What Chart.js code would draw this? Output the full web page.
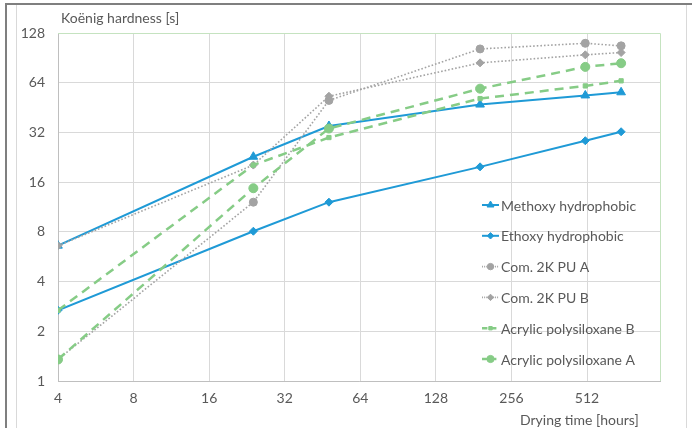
<!DOCTYPE html>
<html>
<head>
<meta charset="utf-8">
<script src="https://cdn.jsdelivr.net/npm/chart.js@4.4.1/dist/chart.umd.min.js"></script>
<style>
  html, body { margin: 0; padding: 0; background: #fff; }
  #wrap { position: relative; width: 700px; height: 428px; }
</style>
</head>
<body>
<div id="wrap"><canvas id="chart" width="700" height="428"></canvas></div>
<script>
const hours = [4, 24, 48, 192, 504, 700];
const methoxy = [6.6, 22.8, 35, 47.2, 53.6, 56];
const ethoxy = [2.68, 8.07, 12.1, 19.8, 28.5, 32.3];
const puA = [1.35, 12.1, 50, 102.5, 110.9, 107];
const puB = [6.6, 20.3, 53, 84.4, 94.4, 97.5];
const acrylB = [2.68, 20.3, 29.8, 51.3, 61.2, 65.7];
const acrylA = [1.35, 14.7, 33.8, 58.9, 79.8, 84];

const xTicks = [4, 8, 16, 32, 64, 128, 256, 512];
const yTicks = [1, 2, 4, 8, 16, 32, 64, 128];

const blue = "#1f9ad6";
const gray = "#a3a3a3";
const green = "#86cc86";
const textColor = "#595959";
const font = "Lato";

const toPoints = vals => vals.map((v, i) => ({x: hours[i], y: v}));

const series = [
  {label: "Methoxy hydrophobic", data: methoxy, color: blue, style: "triangle", r: 5, width: 2, dash: []},
  {label: "Ethoxy hydrophobic", data: ethoxy, color: blue, style: "rectRot", r: 4, width: 2, dash: []},
  {label: "Com. 2K PU A", data: puA, color: gray, style: "circle", r: 4, width: 1.6, dash: [1.6, 2]},
  {label: "Com. 2K PU B", data: puB, color: gray, style: "rectRot", r: 4, width: 1.6, dash: [1.6, 2]},
  {label: "Acrylic polysiloxane B", data: acrylB, color: green, style: "rect", r: 3, width: 2.5, dash: [9, 6]},
  {label: "Acrylic polysiloxane A", data: acrylA, color: green, style: "circle", r: 4.5, width: 2.5, dash: [9, 6]}
];

const datasets = series.map((s, i) => ({
  label: s.label,
  data: toPoints(s.data),
  borderColor: s.color,
  backgroundColor: s.color,
  borderWidth: s.width,
  borderDash: s.dash,
  pointStyle: s.style,
  pointRadius: s.r,
  pointBorderWidth: 1,
  pointBackgroundColor: s.color,
  pointBorderColor: s.color,
  tension: 0,
  order: series.length - i
}));

// frame, plot border, titles, legend
const decor = {
  id: "decor",
  beforeDraw(chart) {
    const c = chart.ctx;
    c.save();
    c.fillStyle = "#fff";
    c.fillRect(0, 0, chart.width, chart.height);
    c.strokeStyle = "#d9d9d9";
    c.lineWidth = 1;
    c.beginPath();
    c.moveTo(16.5, 5); c.lineTo(16.5, 428);
    c.moveTo(686.5, 5); c.lineTo(686.5, 428);
    c.stroke();
    c.strokeStyle = "#7f7f7f";
    c.lineWidth = 2;
    c.beginPath();
    c.moveTo(6, 428); c.lineTo(6, 4); c.lineTo(692, 4);
    c.stroke();
    c.restore();
  },
  afterDraw(chart) {
    const c = chart.ctx;
    const a = chart.chartArea;
    c.save();
    c.strokeStyle = "#c5e3c0";
    c.lineWidth = 1;
    c.beginPath();
    c.moveTo(a.left, a.top + 0.5); c.lineTo(a.right + 0.5, a.top + 0.5); c.lineTo(a.right + 0.5, a.bottom);
    c.stroke();

    c.fillStyle = textColor;
    c.font = "14px " + font;
    c.textBaseline = "middle";
    c.textAlign = "left";
    c.fillText("Koënig hardness [s]", 61, 18);
    c.fillText("Drying time [hours]", 520, 420);

    chart.data.datasets.forEach((ds, i) => {
      const y = 205 + i * 30.8;
      c.save();
      c.strokeStyle = ds.borderColor;
      c.lineWidth = ds.borderWidth;
      c.setLineDash(ds.borderDash.length ? ds.borderDash.map(d => d * 0.6) : []);
      c.beginPath();
      c.moveTo(482, y); c.lineTo(499, y);
      c.stroke();
      c.setLineDash([]);
      c.fillStyle = ds.pointBackgroundColor;
      c.strokeStyle = ds.pointBorderColor;
      c.lineWidth = 1;
      Chart.helpers.drawPoint(c, {pointStyle: ds.pointStyle, radius: ds.pointRadius * 0.8, borderWidth: 1, rotation: 0}, 490.5, y);
      c.restore();
      c.fillStyle = textColor;
      c.fillText(ds.label, 501, y + 1);
    });
    c.restore();
  }
};

new Chart(document.getElementById("chart"), {
  type: "line",
  data: {datasets},
  options: {
    responsive: false,
    animation: false,
    layout: {padding: {top: 33, right: 40, left: 0, bottom: 0}},
    plugins: {legend: {display: false}, tooltip: {enabled: false}},
    scales: {
      x: {
        type: "logarithmic",
        min: 4,
        max: 1000,
        afterBuildTicks: s => { s.ticks = xTicks.map(v => ({value: v})); },
        afterFit: s => { s.height = 47; },
        grid: {color: "#d9d9d9", drawTicks: false},
        border: {color: "#bfbfbf"},
        ticks: {
          color: textColor, font: {family: font, size: 14}, padding: 9,
          maxRotation: 0, autoSkip: false,
          callback: v => String(v)
        }
      },
      y: {
        type: "logarithmic",
        min: 1,
        max: 128,
        afterBuildTicks: s => { s.ticks = yTicks.map(v => ({value: v})); },
        afterFit: s => { s.width = 58; },
        grid: {color: "#d9d9d9", drawTicks: false},
        border: {color: "#bfbfbf"},
        ticks: {
          color: textColor, font: {family: font, size: 14}, padding: 13,
          autoSkip: false,
          callback: v => String(v)
        }
      }
    }
  },
  plugins: [decor]
});
</script>
</body>
</html>
